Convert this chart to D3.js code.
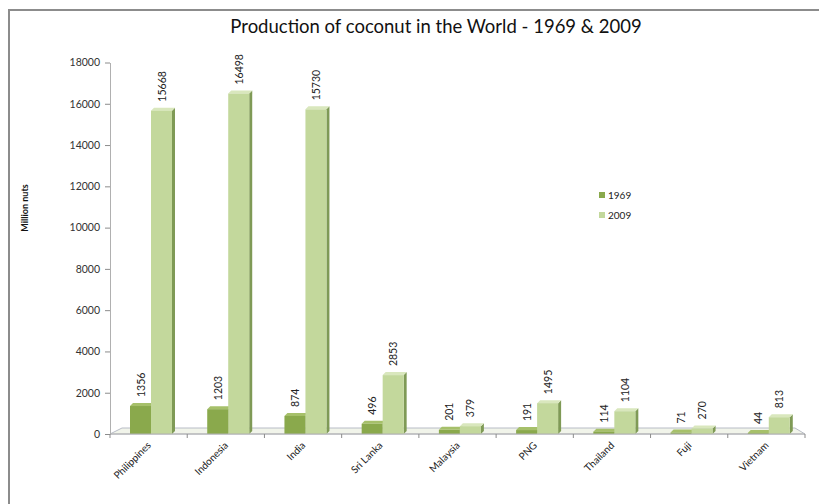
<!DOCTYPE html>
<html><head><meta charset="utf-8">
<script src="https://cdn.jsdelivr.net/npm/d3@7"></script>
<style>body{margin:0;background:#fff}svg{display:block}</style>
</head><body>
<script>
const categories = ["Philippines","Indonesia","India","Sri Lanka","Malaysia","PNG","Thailand","Fuji","Vietnam"];
const values1969 = [1356,1203,874,496,201,191,114,71,44];
const values2009 = [15668,16498,15730,2853,379,1495,1104,270,813];
const seriesNames = ["1969","2009"];
const yTicks = [0,2000,4000,6000,8000,10000,12000,14000,16000,18000];
const titleText = "Production of coconut in the World - 1969 & 2009";
const yLabel = "Million nuts";

const W = 819, H = 504;
const svg = d3.select("body").append("svg").attr("width", W).attr("height", H);
const font = "Lato, 'Open Sans', sans-serif";

// frame
svg.append("rect").attr("x",9).attr("y",10).attr("width",W+20).attr("height",H+20)
  .attr("fill","#fff").attr("stroke","#8c8c8c").attr("stroke-width",2);

const x = d3.scaleBand().domain(categories).range([110,805]).padding(0);
const y = d3.scaleLinear().domain([0,18000]).range([434,62.5]);

const colors = {"1969":{front:"#8aa94c",side:"#5d7a28",top:"#a6c06a"},
                "2009":{front:"#c3d89c",side:"#7f9a56",top:"#d9e7bd"}};

// floor
const g = svg.append("g");
g.append("path").attr("d", `M110,434 L122,428 L795,428 L805,434 Z`)
  .attr("fill","#f1f4ea").attr("stroke","#b8bcc6").attr("stroke-width",1);

// y axis
const yAxis = d3.axisLeft(y).tickValues(yTicks).tickFormat(d3.format("d")).tickSize(5).tickSizeOuter(0).tickPadding(5);
const ya = svg.append("g").attr("transform","translate(110,0)").call(yAxis);
ya.select(".domain").attr("stroke","#b0b0b0");
ya.selectAll(".tick line").attr("stroke","#8c8c8c");
ya.selectAll("text").attr("font-family",font).attr("font-size",10.5).attr("fill","#333");

// x axis
const xa = svg.append("g").attr("transform","translate(0,434)");
xa.append("line").attr("x1",110).attr("x2",805).attr("stroke","#b0b0b0");
const bounds = categories.map(c=>x(c)).concat([x(categories[categories.length-1])+x.bandwidth()]);
xa.selectAll("line.tk").data(bounds).enter().append("line").attr("class","tk")
  .attr("x1",d=>d).attr("x2",d=>d).attr("y1",0).attr("y2",4).attr("stroke","#8c8c8c");
xa.selectAll("text").data(categories).enter().append("text")
  .attr("transform",d=>`translate(${x(d)+x.bandwidth()/2+3},12) rotate(-45)`)
  .attr("text-anchor","end").attr("font-family",font).attr("font-size",10).attr("fill","#222")
  .text(d=>d);

// bars
const bw = 21, depth = 3;
const series = [values1969, values2009];
series.forEach((vals, si) => {
  const c = colors[seriesNames[si]];
  categories.forEach((cat, i) => {
    const x0 = x(cat) + 20 + si*bw;
    const y0 = y(vals[i]);
    const bottom = y(0);
    g.append("path").attr("d",`M${x0+bw},${y0} L${x0+bw+depth},${y0-depth} L${x0+bw+depth},${bottom-depth} L${x0+bw},${bottom} Z`)
      .attr("fill",c.side);
    g.append("path").attr("d",`M${x0},${y0} L${x0+depth},${y0-depth} L${x0+bw+depth},${y0-depth} L${x0+bw},${y0} Z`)
      .attr("fill",c.top);
    g.append("rect").attr("x",x0).attr("y",y0).attr("width",bw).attr("height",bottom-y0)
      .attr("fill",c.front);
    g.append("text").attr("transform",`translate(${x0+bw/2+4},${y0-9}) rotate(-90)`)
      .attr("font-family",font).attr("font-size",10.5).attr("fill","#222")
      .text(vals[i]);
  });
});

// title
svg.append("text").attr("x",436).attr("y",33).attr("text-anchor","middle")
  .attr("font-family",font).attr("font-size",18.5).attr("fill","#111").text(titleText);

// y label
svg.append("text").attr("transform","translate(28,208) rotate(-90)").attr("text-anchor","middle")
  .attr("font-family",font).attr("font-size",9).attr("font-weight","bold").attr("fill","#111").text(yLabel);

// legend
const lg = svg.append("g").attr("transform","translate(599,192)");
seriesNames.forEach((s,i)=>{
  lg.append("rect").attr("x",0).attr("y",i*20).attr("width",6).attr("height",6).attr("fill",colors[s].front);
  lg.append("text").attr("x",9).attr("y",i*20+7).attr("font-family",font).attr("font-size",10).attr("fill","#222").text(s);
});
</script>
</body></html>
